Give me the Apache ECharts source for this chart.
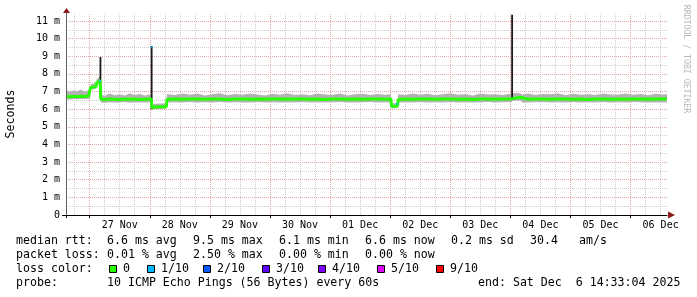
<!DOCTYPE html>
<html><head><meta charset="utf-8">
<script src="https://cdn.jsdelivr.net/npm/echarts@6/dist/echarts.min.js"></script>
<style>html,body{margin:0;padding:0;background:#fff}#c{width:697px;height:297px}</style>
</head><body><div id="c"></div>
<script>
// time in hours since 26 Nov 2025 00:00
const X_MIN = 14.55, X_MAX = 254.55;
const Y_MAX = 11.45;

const T = [
  14.55, 16, 17.5, 19, 20.5, 22, 23.5, 24.2,
  24.35, 25.5, 26.6,
  26.75, 27.5, 28.2,
  28.45, 30, 32, 34, 36, 38, 40, 42, 44, 46, 48.6,
  48.85, 50.5, 52.5, 54.6,
  54.9, 58, 61, 64, 67, 70, 73, 76, 79, 82, 85, 88, 91, 94, 97, 100, 103, 106, 109, 112, 115, 118, 121, 124, 127, 130, 133, 136, 139, 142, 144.3,
  144.55, 145.8, 146.95,
  147.2, 150, 153, 156, 159, 162, 165, 168, 171, 174, 177, 180, 183, 186, 189, 192.5,
  192.8, 194.5, 196.3,
  196.6, 199, 202, 205, 208, 211, 214, 217, 220, 223, 226, 229, 232, 235, 238, 241, 244, 247, 250, 253, 254.55
];
const MED = [
  6.72, 6.70, 6.72, 6.71, 6.73, 6.72, 6.74, 6.74,
  7.22, 7.26, 7.28,
  7.48, 7.55, 7.62,
  6.56, 6.55, 6.57, 6.56, 6.55, 6.58, 6.56, 6.57, 6.55, 6.56, 6.57,
  6.10, 6.12, 6.13, 6.14,
  6.56, 6.57, 6.56, 6.58, 6.57, 6.56, 6.58, 6.57, 6.55, 6.57, 6.58, 6.56, 6.57, 6.56, 6.58, 6.57, 6.56, 6.57, 6.58, 6.56, 6.57, 6.55, 6.57, 6.58, 6.56, 6.57, 6.56, 6.58, 6.57, 6.56, 6.57,
  6.16, 6.17, 6.18,
  6.55, 6.57, 6.56, 6.58, 6.57, 6.56, 6.57, 6.58, 6.56, 6.57, 6.55, 6.57, 6.58, 6.56, 6.57, 6.58,
  6.66, 6.65, 6.66,
  6.57, 6.56, 6.58, 6.57, 6.56, 6.57, 6.58, 6.56, 6.57, 6.55, 6.57, 6.58, 6.56, 6.57, 6.56, 6.58, 6.57, 6.56, 6.57, 6.58, 6.57
];
const LO = [
  6.56, 6.55, 6.58, 6.56, 6.58, 6.57, 6.58, 6.60,
  7.10, 7.13, 7.16,
  7.36, 7.43, 7.48,
  6.38, 6.36, 6.39, 6.37, 6.38, 6.40, 6.36, 6.39, 6.37, 6.38, 6.39,
  5.98, 6.00, 6.01, 6.02,
  6.38, 6.39, 6.37, 6.40, 6.38, 6.39, 6.37, 6.40, 6.38, 6.39, 6.38, 6.37, 6.40, 6.38, 6.39, 6.37, 6.39, 6.38, 6.40, 6.37, 6.39, 6.38, 6.39, 6.40, 6.38, 6.37, 6.39, 6.40, 6.38, 6.39, 6.38,
  6.04, 6.05, 6.06,
  6.38, 6.39, 6.37, 6.40, 6.38, 6.39, 6.38, 6.40, 6.37, 6.39, 6.38, 6.39, 6.40, 6.38, 6.39, 6.40,
  6.48, 6.48, 6.49,
  6.38, 6.37, 6.39, 6.40, 6.38, 6.39, 6.37, 6.40, 6.38, 6.39, 6.38, 6.40, 6.37, 6.39, 6.38, 6.40, 6.39, 6.38, 6.37, 6.39, 6.38
];
const HI = [
  7.08, 6.98, 7.05, 7.01, 7.11, 6.99, 7.07, 7.03,
  7.40, 7.45, 7.50,
  7.70, 7.78, 7.88,
  6.82, 6.76, 6.88, 6.79, 6.84, 6.78, 6.90, 6.80, 6.86, 6.78, 6.84,
  6.28, 6.30, 6.32, 6.34,
  6.86, 6.80, 6.89, 6.82, 6.88, 6.78, 6.84, 6.90, 6.79, 6.86, 6.81, 6.88, 6.83, 6.78, 6.87, 6.82, 6.90, 6.80, 6.85, 6.79, 6.88, 6.83, 6.81, 6.89, 6.78, 6.84, 6.87, 6.80, 6.86, 6.82, 6.84,
  6.32, 6.34, 6.37,
  6.84, 6.80, 6.88, 6.82, 6.87, 6.79, 6.85, 6.90, 6.81, 6.86, 6.78, 6.89, 6.83, 6.84, 6.80, 6.88,
  6.90, 6.92, 6.89,
  6.82, 6.88, 6.80, 6.86, 6.84, 6.90, 6.79, 6.87, 6.82, 6.85, 6.80, 6.89, 6.83, 6.81, 6.88, 6.82, 6.86, 6.79, 6.87, 6.83, 6.84
];
const SPIKE_T = [28.3, 48.75, 192.7];
const SPIKE_BASE = [6.6, 6.0, 6.6];
const SPIKE_PEAK = [8.96, 9.58, 11.35];
const LOSS_T = [28.1, 48.75, 146.9];
const LOSS_V = [7.6, 9.5, 6.3];

const MIDNIGHTS = [24, 48, 72, 96, 120, 144, 168, 192, 216, 240];
const SIX_HOURS = [18, 30, 36, 42, 54, 60, 66, 78, 84, 90, 102, 108, 114, 126, 132, 138, 150, 156, 162, 174, 180, 186, 198, 204, 210, 222, 228, 234, 246, 252];
const LABEL_HOURS = [36, 60, 84, 108, 132, 156, 180, 204, 228, 252];
const DAY_LABELS = ['27 Nov', '28 Nov', '29 Nov', '30 Nov', '01 Dec', '02 Dec', '03 Dec', '04 Dec', '05 Dec', '06 Dec'];
const Y_TICKS = [0, 1, 2, 3, 4, 5, 6, 7, 8, 9, 10, 11];
const Y_LABELS = ['0', '1 m', '2 m', '3 m', '4 m', '5 m', '6 m', '7 m', '8 m', '9 m', '10 m', '11 m'];
const Y_HALF = [0.5, 1.5, 2.5, 3.5, 4.5, 5.5, 6.5, 7.5, 8.5, 9.5, 10.5];
const Y_MAJOR = [1, 2, 3, 4, 5, 6, 7, 8, 9, 10, 11];

const LEGEND_RTT = ['median rtt:', '6.6 ms avg', '9.5 ms max', '6.1 ms min', '6.6 ms now', '0.2 ms sd', '30.4', 'am/s'];
const LEGEND_LOSS = ['packet loss:', '0.01 % avg', '2.50 % max', '0.00 % min', '0.00 % now'];
const LOSS_LABELS = ['0', '1/10', '2/10', '3/10', '4/10', '5/10', '9/10'];
const LOSS_COLORS = ['#26ff00', '#00b8ff', '#0059ff', '#5e00ff', '#7e00ff', '#dd00ff', '#ff0000'];
const PROBE = ['probe:', '10 ICMP Echo Pings (56 Bytes) every 60s', 'end: Sat Dec  6 14:33:04 2025'];

// layout
const MONO = '"DejaVu Sans Mono", monospace';
const GL = 66, GT = 13, GW = 601, GH = 202;
const RTT_X = [16, 107, 193, 279, 365, 451, 530, 579];
const BOX_X = [109, 147, 203, 262, 318, 377, 436];
const PROBE_X = [16, 107, 478];

const chart = echarts.init(document.getElementById('c'), null, {renderer: 'canvas'});

const smokeData = T.map((t, i) => [t, LO[i], HI[i]]);
const medData = T.map((t, i) => [t, MED[i]]);
const spikeData = [];
SPIKE_T.forEach((t, i) => { spikeData.push([t, SPIKE_BASE[i]], [t, SPIKE_PEAK[i]], [t, null]); });
const lossData = LOSS_T.map((t, i) => [t, LOSS_V[i]]);

function gridX(vals, color, len) {
  return {
    type: 'value', min: X_MIN, max: X_MAX, position: 'bottom', gridIndex: 0,
    axisLine: {show: false}, axisLabel: {show: false}, splitLine: {show: false},
    axisTick: {show: true, inside: true, length: len, customValues: vals,
      lineStyle: {color: color, width: 1, type: [1, 1]}}
  };
}
function gridY(vals, color, len) {
  return {
    type: 'value', min: 0, max: Y_MAX, position: 'left', gridIndex: 0,
    axisLine: {show: false}, axisLabel: {show: false}, splitLine: {show: false},
    axisTick: {show: true, inside: true, length: len, customValues: vals,
      lineStyle: {color: color, width: 1, type: [1, 1]}}
  };
}

const graphics = [];
function txt(x, y, s, size, color) {
  graphics.push({type: 'text', x: x, y: y, silent: true,
    style: {text: s, fontFamily: MONO, fontSize: size, fill: color || '#000', verticalAlign: 'middle', align: 'left'}});
}
LEGEND_RTT.forEach((s, i) => txt(RTT_X[i], 241, s, 11.6));
LEGEND_LOSS.forEach((s, i) => txt(RTT_X[i], 255, s, 11.6));
txt(16, 269, 'loss color:', 11.6);
LOSS_LABELS.forEach((s, i) => {
  graphics.push({type: 'rect', shape: {x: BOX_X[i] + 0.5, y: 265.5, width: 7, height: 7},
    style: {fill: LOSS_COLORS[i], stroke: '#000', lineWidth: 1}});
  txt(BOX_X[i] + 14, 269, s, 11.6);
});
PROBE.forEach((s, i) => txt(PROBE_X[i], 283, s, 11.6));
graphics.push({type: 'text', x: 686, y: 59, rotation: -Math.PI / 2, silent: true,
  style: {text: 'RRDTOOL / TOBI OETIKER', fontFamily: MONO, fontSize: 8.2, fill: '#b8b8b8', align: 'center', verticalAlign: 'middle'}});
graphics.push({type: 'polygon', shape: {points: [[668, 211.5], [668, 218.5], [675, 215]]}, style: {fill: '#8b1a1a'}});
graphics.push({type: 'polygon', shape: {points: [[63, 13], [70, 13], [66.5, 8]]}, style: {fill: '#8b1a1a'}});

const option = {
  animation: false,
  backgroundColor: '#fff',
  grid: {left: GL, top: GT, width: GW, height: GH, containLabel: false, outerBoundsMode: 'none'},
  xAxis: [
    {
      type: 'value', min: X_MIN, max: X_MAX, position: 'bottom', gridIndex: 0, z: 5,
      axisLine: {show: true, lineStyle: {color: '#000', width: 1}},
      splitLine: {show: false},
      axisTick: {show: true, length: 3, customValues: [X_MIN].concat(MIDNIGHTS), lineStyle: {color: '#000'}},
      axisLabel: {show: true, customValues: LABEL_HOURS, margin: 5, fontFamily: MONO, fontSize: 10, color: '#000',
        formatter: v => DAY_LABELS[LABEL_HOURS.indexOf(Math.round(v))]}
    },
    gridX(SIX_HOURS, '#cccccc', GH),
    gridX(MIDNIGHTS, '#e6a4a4', GH)
  ],
  yAxis: [
    {
      type: 'value', min: 0, max: Y_MAX, position: 'left', gridIndex: 0, z: 5,
      name: 'Seconds', nameLocation: 'middle', nameGap: 49, nameRotate: 90,
      nameTextStyle: {fontFamily: MONO, fontSize: 11.6, color: '#000'},
      axisLine: {show: true, lineStyle: {color: '#606060', width: 1}},
      splitLine: {show: false},
      axisTick: {show: true, length: 4, customValues: [0], lineStyle: {color: '#000'}},
      axisLabel: {show: true, customValues: Y_TICKS, margin: 6, fontFamily: MONO, fontSize: 10, color: '#000',
        formatter: v => Y_LABELS[Y_TICKS.indexOf(Math.round(v))]}
    },
    gridY(Y_HALF, '#cccccc', GW),
    gridY(Y_MAJOR, '#e6a4a4', GW)
  ],
  series: [
    {type: 'custom', name: 'smoke', data: smokeData, encode: {x: 0, y: [1, 2]}, silent: true, z: 2,
      renderItem: function (params, api) {
        if (params.dataIndex !== 0) return null;
        const pts = [];
        for (let i = 0; i < smokeData.length; i++) pts.push(api.coord([smokeData[i][0], smokeData[i][2]]));
        for (let i = smokeData.length - 1; i >= 0; i--) pts.push(api.coord([smokeData[i][0], smokeData[i][1]]));
        return {type: 'polygon', shape: {points: pts}, style: {fill: '#b2b2b2', stroke: null}};
      }},
    {type: 'line', name: 'spikes', data: spikeData, symbol: 'none', connectNulls: false,
      lineStyle: {color: '#1a1a1a', width: 1.8}, z: 3},
    {type: 'line', name: 'median', data: medData, symbol: 'none',
      lineStyle: {color: '#26ff00', width: 3}, z: 4},
    {type: 'scatter', name: 'loss', data: lossData, symbol: 'rect', symbolSize: 2,
      itemStyle: {color: '#00b8ff'}, z: 5}
  ],
  graphic: graphics
};
chart.setOption(option);
</script>
</body></html>
